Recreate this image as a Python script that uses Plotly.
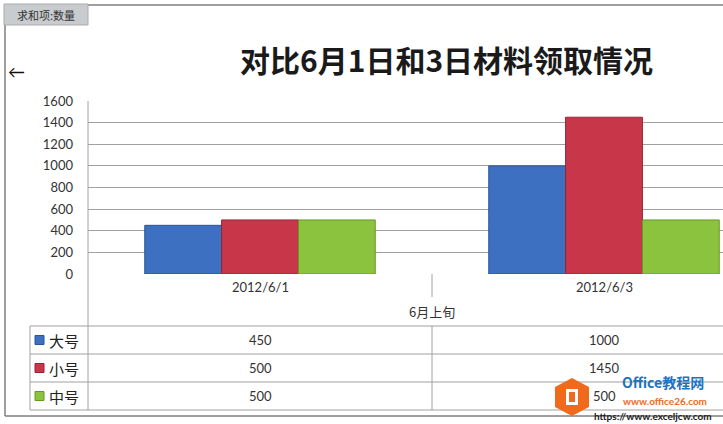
import plotly.graph_objects as go

# ---------------- data ----------------
categories = ["2012/6/1", "2012/6/3"]
group_label = "6月上旬"
series_names = ["大号", "小号", "中号"]
large_vals = [450, 1000]
small_vals = [500, 1450]
medium_vals = [500, 500]
y_ticks = [0, 200, 400, 600, 800, 1000, 1200, 1400, 1600]
title_text = "对比6月1日和3日材料领取情况"
field_button = "求和项:数量"

series_values = [large_vals, small_vals, medium_vals]
colors = ["#3D70C0", "#C8364A", "#8BC33E"]
edge_colors = ["#2A5596", "#962535", "#68962B"]

W, H = 723, 424
def px(x):
    return x / W
def py(y):
    return 1 - y / H

CJK = "Noto Sans CJK SC, Noto Sans, sans-serif"
NUM = "Lato, Noto Sans CJK SC, sans-serif"

x_pos = list(range(len(categories)))

fig = go.Figure()
for name, vals, c, ec in zip(series_names, series_values, colors, edge_colors):
    fig.add_trace(go.Bar(
        x=x_pos, y=vals, name=name,
        marker=dict(color=c, line=dict(color=ec, width=1)),
        showlegend=False,
    ))

shapes = []
annotations = []

def note(text, x, y, size, family, color, xanchor="center", xref="paper"):
    annotations.append(dict(text=text, xref=xref, yref="paper", x=x, y=y,
                            xanchor=xanchor, yanchor="middle", showarrow=False,
                            font=dict(family=family, size=size, color=color)))

# outer chart border
border = "#7F7F7F"
shapes.append(dict(type="line", xref="paper", yref="paper", x0=px(5), x1=px(5), y0=py(5), y1=py(416),
                   line=dict(color=border, width=1.5)))
shapes.append(dict(type="line", xref="paper", yref="paper", x0=px(5), x1=1, y0=py(5), y1=py(5),
                   line=dict(color=border, width=1.5)))
shapes.append(dict(type="line", xref="paper", yref="paper", x0=px(5), x1=1, y0=py(416), y1=py(416),
                   line=dict(color=border, width=1.5)))

# field button
shapes.append(dict(type="rect", xref="paper", yref="paper", x0=px(4), x1=px(88), y0=py(25), y1=py(4),
                   fillcolor="#C9CCCF", line=dict(color="#A8ABAE", width=1), layer="above"))
note(field_button, px(46), py(14.5), 11, CJK, "#333333")

# arrow
note("←", px(16), py(72), 17, NUM, "#111111")

# title
note("<b>" + title_text + "</b>", px(446), py(59), 30, CJK, "#1A1A1A")

grid_col = "#A0A0A0"
# left axis line through the table
shapes.append(dict(type="line", xref="paper", yref="paper", x0=px(88), x1=px(88), y0=py(101), y1=py(410),
                   line=dict(color=grid_col, width=1)))
# category divider
shapes.append(dict(type="line", xref="x", yref="paper", x0=0.5, x1=0.5, y0=py(274), y1=py(297),
                   line=dict(color=grid_col, width=1)))
shapes.append(dict(type="line", xref="x", yref="paper", x0=0.5, x1=0.5, y0=py(326), y1=py(410),
                   line=dict(color=grid_col, width=1)))
# table rows
row_lines = [326, 354, 382, 410]
for yy in row_lines:
    shapes.append(dict(type="line", xref="paper", yref="paper", x0=px(30), x1=1, y0=py(yy), y1=py(yy),
                       line=dict(color=grid_col, width=1)))
shapes.append(dict(type="line", xref="paper", yref="paper", x0=px(30), x1=px(30), y0=py(326), y1=py(410),
                   line=dict(color=grid_col, width=1)))

# category labels
for i, cat in enumerate(categories):
    note(cat, i, py(287), 13, NUM, "#333333", xref="x")
note(group_label, 0.5, py(311), 13, CJK, "#333333", xref="x")

# data table rows
for r, (name, vals, c, ec) in enumerate(zip(series_names, series_values, colors, edge_colors)):
    yc = (row_lines[r] + row_lines[r + 1]) / 2
    shapes.append(dict(type="rect", xref="paper", yref="paper", x0=px(35), x1=px(44),
                       y0=py(yc + 4.5), y1=py(yc - 4.5), fillcolor=c, line=dict(color=ec, width=1)))
    note(name, px(47), py(yc), 15, CJK, "#222222", xanchor="left")
    for i, v in enumerate(vals):
        note(str(v), i, py(yc), 13, NUM, "#333333", xref="x")

# watermark (site overlay in the reference)
shapes.append(dict(type="path", xref="paper", yref="paper",
                   path="M {} {} L {} {} L {} {} L {} {} L {} {} L {} {} Z".format(
                       px(572), py(378), px(589), py(387), px(589), py(407),
                       px(572), py(416), px(555), py(407), px(555), py(387)),
                   fillcolor="#F06A1D", line=dict(width=0), layer="above"))
shapes.append(dict(type="rect", xref="paper", yref="paper", x0=px(566), x1=px(578), y0=py(405), y1=py(389),
                   fillcolor="#FFFFFF", line=dict(width=0), layer="above"))
shapes.append(dict(type="rect", xref="paper", yref="paper", x0=px(569), x1=px(575), y0=py(402), y1=py(392),
                   fillcolor="#F06A1D", line=dict(width=0), layer="above"))
note("<b>Office教程网</b>", px(620), py(382), 14, CJK, "#1E73BE", xanchor="left")
note("<b>www.office26.com</b>", px(621), py(401), 10, NUM, "#F06A1D", xanchor="left")
note("<b>https://www.exceljcw.com</b>", px(592), py(416), 10, NUM, "#222222", xanchor="left")

fig.update_layout(
    width=W, height=H,
    margin=dict(l=0, r=0, t=0, b=0, autoexpand=False),
    paper_bgcolor="white", plot_bgcolor="white",
    barmode="group", bargap=0.33, bargroupgap=0,
    shapes=shapes, annotations=annotations,
    xaxis=dict(domain=[px(88), 1], range=[-0.5, -0.5 + (W - 88) / 344.0],
               showticklabels=False, showgrid=False, zeroline=False, ticks=""),
    yaxis=dict(domain=[py(274), py(101)], range=[0, 1600], tickvals=y_ticks,
               showgrid=True, gridcolor=grid_col, gridwidth=1, zeroline=False,
               ticks="", ticklabelstandoff=14, automargin=False,
               tickfont=dict(family=NUM, size=13, color="#333333")),
)

fig.write_html("out.html", config={"displayModeBar": False},
               post_script="document.body.style.margin='0';")
